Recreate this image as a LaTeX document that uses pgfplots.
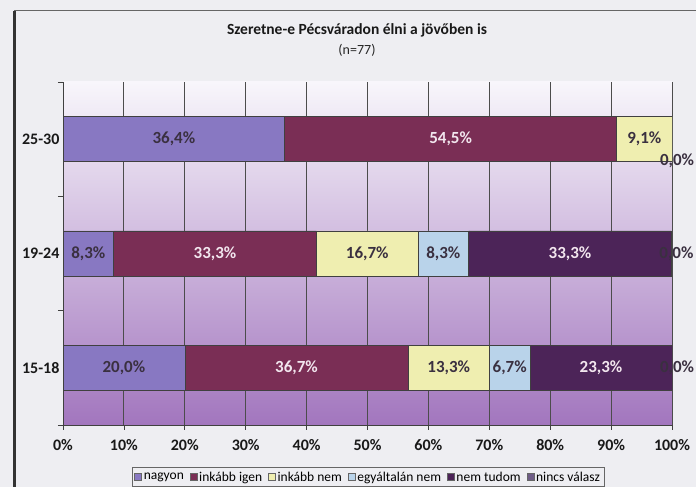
\documentclass[border=0pt]{standalone}
\usepackage{pgfplots}
\pgfplotsset{compat=1.18}
\usepackage{pgfplotstable}
\usepackage{fontspec}
\setmainfont{Carlito}

\definecolor{cNagyon}{HTML}{8878C2}
\definecolor{cIgen}{HTML}{7A2E55}
\definecolor{cNem}{HTML}{EFEEB0}
\definecolor{cEgy}{HTML}{B9D3EA}
\definecolor{cNemtud}{HTML}{4C2458}
\definecolor{cNincs}{HTML}{6E5C86}
\definecolor{bgPage}{HTML}{EEEEF2}
\definecolor{bgTop}{HTML}{F8F6FB}
\definecolor{bgMid}{HTML}{DCC6E6}
\definecolor{bgBot}{HTML}{A276BE}
\definecolor{txtDark}{HTML}{3A3040}
\definecolor{txtLight}{HTML}{F2E6EE}

% a = nagyon, b = inkabb igen, c = inkabb nem, d = egyaltalan nem, e = nem tudom, f = nincs valasz
\pgfplotstableread{
cat a    b    c    d   e    f   dy
0   20.0 36.7 13.3 6.7 23.3 0.0 0
1   8.3  33.3 16.7 8.3 33.3 0.0 0
2   36.4 54.5 9.1  0.0 0.0  0.0 -22
}\data

\pgfplotsset{
  common/.style={
    at={(63pt,62pt)}, anchor=south west,
    width=609pt, height=343pt, scale only axis,
    xmin=0, xmax=100, ymin=-0.5, ymax=2.5,
  },
  lbl/.style={
    only marks, mark=none, point meta=explicit,
    nodes near coords={\pgfmathprintnumber[fixed,fixed zerofill,precision=1,use comma,assume math mode=true]{\pgfplotspointmeta}\%},
    every node near coord/.append style={anchor=center, font=\bfseries\fontsize{17}{19}\selectfont, text=#1},
  },
}

\begin{document}
\begin{tikzpicture}
\fill[bgPage] (0,0) rectangle (696pt,487pt);
\path[use as bounding box] (0,0) rectangle (696pt,487pt);
\draw[black!80, line width=3pt] (14pt,0) -- (14pt,476pt);
\draw[black!60, line width=1pt] (14pt,476pt) -- (696pt,476pt);

\node[font=\bfseries\fontsize{15.5}{17}\selectfont, text=black!90] at (357pt,457pt) {Szeretne-e Pécsváradon élni a jövőben is};
\node[font=\fontsize{14}{16}\selectfont, text=black!85] at (357pt,437pt) {(n=77)};

\begin{axis}[
  common,
  xbar stacked, bar width=45pt,
  axis background/.style={shade, top color=bgTop, middle color=bgMid, bottom color=bgBot},
  axis x line*=bottom, axis y line*=left,
  axis line style={draw=black!75, line width=0.8pt},
  xtick={0,10,...,100},
  xticklabel={\pgfmathprintnumber[assume math mode=true]{\tick}\%},
  ytick={0,1,2}, yticklabels={15-18,19-24,25-30},
  minor ytick={-0.5,0.5,1.5,2.5},
  major y tick style={draw=none},
  minor y tick style={draw=black!75, line width=0.8pt},
  major x tick style={draw=black!75, line width=0.8pt},
  tick align=outside, major tick length=5pt, minor tick length=5pt,
  xmajorgrids, major grid style={draw=black!70, line width=0.9pt},
  tick label style={font=\bfseries\fontsize{16}{18}\selectfont, text=black!90},
  xticklabel style={yshift=-6pt},
  yticklabel style={xshift=5pt},
  legend style={at={(0.501,-0.152)}, anchor=center, legend columns=-1,
    draw=black!60, fill=bgPage, font=\fontsize{13.5}{15}\selectfont,
    inner sep=2pt, /tikz/every even column/.append style={column sep=4pt}},
  legend image code/.code={\draw[#1, draw=black!60] (0pt,-3.5pt) rectangle (7pt,3.5pt);},
]
\addplot[fill=cNagyon, draw=black!75] table[x=a, y=cat]{\data};
\addlegendentry{nagyon}
\addplot[fill=cIgen, draw=black!75] table[x=b, y=cat]{\data};
\addlegendentry{inkább igen}
\addplot[fill=cNem, draw=black!75] table[x=c, y=cat]{\data};
\addlegendentry{inkább nem}
\addplot[fill=cEgy, draw=black!75] table[x=d, y=cat]{\data};
\addlegendentry{egyáltalán nem}
\addplot[fill=cNemtud, draw=black!75] table[x=e, y=cat]{\data};
\addlegendentry{nem tudom}
\addplot[fill=cNincs, draw=black!75] table[x=f, y=cat]{\data};
\addlegendentry{nincs válasz}
\end{axis}

\begin{axis}[common, axis lines=none, clip=false]
\addplot[lbl=txtDark] table[x expr=\thisrow{a}/2, y=cat, meta=a]{\data};
\addplot[lbl=txtLight] table[x expr=\thisrow{a}+\thisrow{b}/2, y=cat, meta=b]{\data};
\addplot[lbl=txtDark] table[x expr=\thisrow{a}+\thisrow{b}+\thisrow{c}/2, y=cat, meta=c]{\data};
\addplot[lbl=txtDark, skip coords between index={2}{3}] table[x expr=\thisrow{a}+\thisrow{b}+\thisrow{c}+\thisrow{d}/2, y=cat, meta=d]{\data};
\addplot[lbl=txtLight, skip coords between index={2}{3}] table[x expr=\thisrow{a}+\thisrow{b}+\thisrow{c}+\thisrow{d}+\thisrow{e}/2, y=cat, meta=e]{\data};
\addplot[lbl=txtDark, visualization depends on={\thisrow{dy} \as \dy},
  every node near coord/.append style={yshift=\dy, xshift=5pt}]
  table[x expr=\thisrow{a}+\thisrow{b}+\thisrow{c}+\thisrow{d}+\thisrow{e}+\thisrow{f}/2, y=cat, meta=f]{\data};
\end{axis}
\end{tikzpicture}
\end{document}
